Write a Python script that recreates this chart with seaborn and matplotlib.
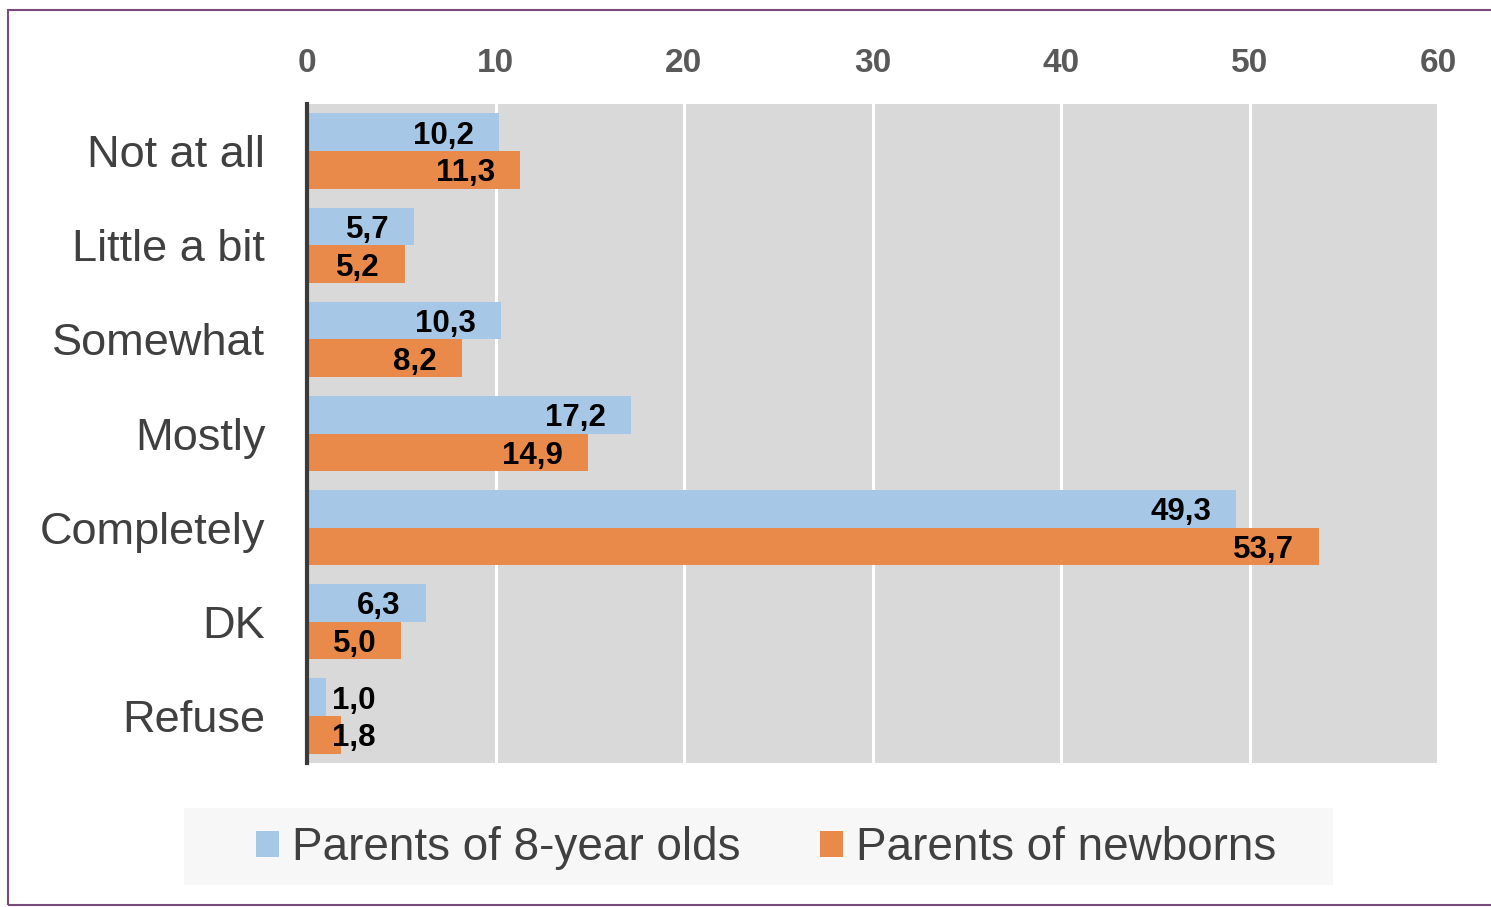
import matplotlib
matplotlib.use('Agg')
import matplotlib.pyplot as plt
from matplotlib.patches import Rectangle, Patch
import seaborn as sns
import pandas as pd

# data
categories = ["Not at all", "Little a bit", "Somewhat", "Mostly", "Completely", "DK", "Refuse"]
parents_8yr = [10.2, 5.7, 10.3, 17.2, 49.3, 6.3, 1.0]
parents_newborn = [11.3, 5.2, 8.2, 14.9, 53.7, 5.0, 1.8]
series_names = ["Parents of 8-year olds", "Parents of newborns"]
x_ticks = [0, 10, 20, 30, 40, 50, 60]

BLUE = "#a7c7e7"
ORANGE = "#ea8a4a"

df = pd.DataFrame({
    "category": categories * 2,
    "value": parents_8yr + parents_newborn,
    "group": [series_names[0]] * len(categories) + [series_names[1]] * len(categories),
})

sns.set_theme(style="white")
plt.rcParams['font.family'] = ['Liberation Sans', 'DejaVu Sans']

W, H = 1491, 907
fig = plt.figure(figsize=(W / 100, H / 100), dpi=100)
ax = fig.add_axes([307 / W, 1 - 763 / H, (1438 - 307) / W, (763 - 104) / H])

sns.barplot(data=df, y="category", x="value", hue="group", orient="h",
            palette=[BLUE, ORANGE], width=0.8, gap=0, linewidth=0,
            saturation=1, legend=False, ax=ax, zorder=3)

ax.set_facecolor("#d9d9d9")
ax.set_xlim(0, 60)
ax.set_xticks(x_ticks)
ax.xaxis.tick_top()
ax.grid(axis="x", color="white", linewidth=2.2, zorder=1)
ax.grid(axis="y", visible=False)
ax.set_axisbelow(True)
ax.set_xlabel("")
ax.set_ylabel("")
ax.tick_params(axis="x", length=0, pad=18, labelsize=24, labelcolor="#595959")
ax.tick_params(axis="y", length=0, pad=30, labelsize=32.5, labelcolor="#404040")
for lab in ax.get_xticklabels():
    lab.set_fontweight("bold")
for side in ["top", "right", "bottom"]:
    ax.spines[side].set_visible(False)
ax.spines["left"].set_color("#3a3a3a")
ax.spines["left"].set_linewidth(3)
ax.spines["left"].set_zorder(5)

# value labels
for cont in ax.containers:
    for bar in cont:
        v = bar.get_width()
        yc = bar.get_y() + bar.get_height() / 2
        txt = f"{v:.1f}".replace(".", ",")
        if v < 4:
            ax.annotate(txt, (0, yc), xytext=(18, -2.5), textcoords="offset points",
                        ha="left", va="center", fontsize=22.5, fontweight="bold",
                        color="black", zorder=6)
        else:
            ax.annotate(txt, (v, yc), xytext=(-18, -2.5), textcoords="offset points",
                        ha="right", va="center", fontsize=22.5, fontweight="bold",
                        color="black", zorder=6)

# legend with light background box
fig.patches.append(Rectangle((184 / W, 1 - 885 / H), (1333 - 184) / W, (885 - 808) / H,
                             transform=fig.transFigure, facecolor="#f7f7f7",
                             edgecolor="none", zorder=0))
handles = [Patch(facecolor=BLUE, edgecolor="none"), Patch(facecolor=ORANGE, edgecolor="none")]
fig.legend(handles, series_names, loc="center", bbox_to_anchor=(766 / W, 1 - 848 / H),
           ncol=2, frameon=False, fontsize=33, labelcolor="#404040",
           handlelength=0.5, handleheight=0.5, handletextpad=0.28, columnspacing=1.75)

# outer frame
fig.patches.append(Rectangle((8 / W, 1 - 905 / H), 1.2, (905 - 10) / H,
                             transform=fig.transFigure, facecolor="none",
                             edgecolor="#7a4a7e", linewidth=1.5, zorder=0))

fig.savefig("out.png", dpi=100)
